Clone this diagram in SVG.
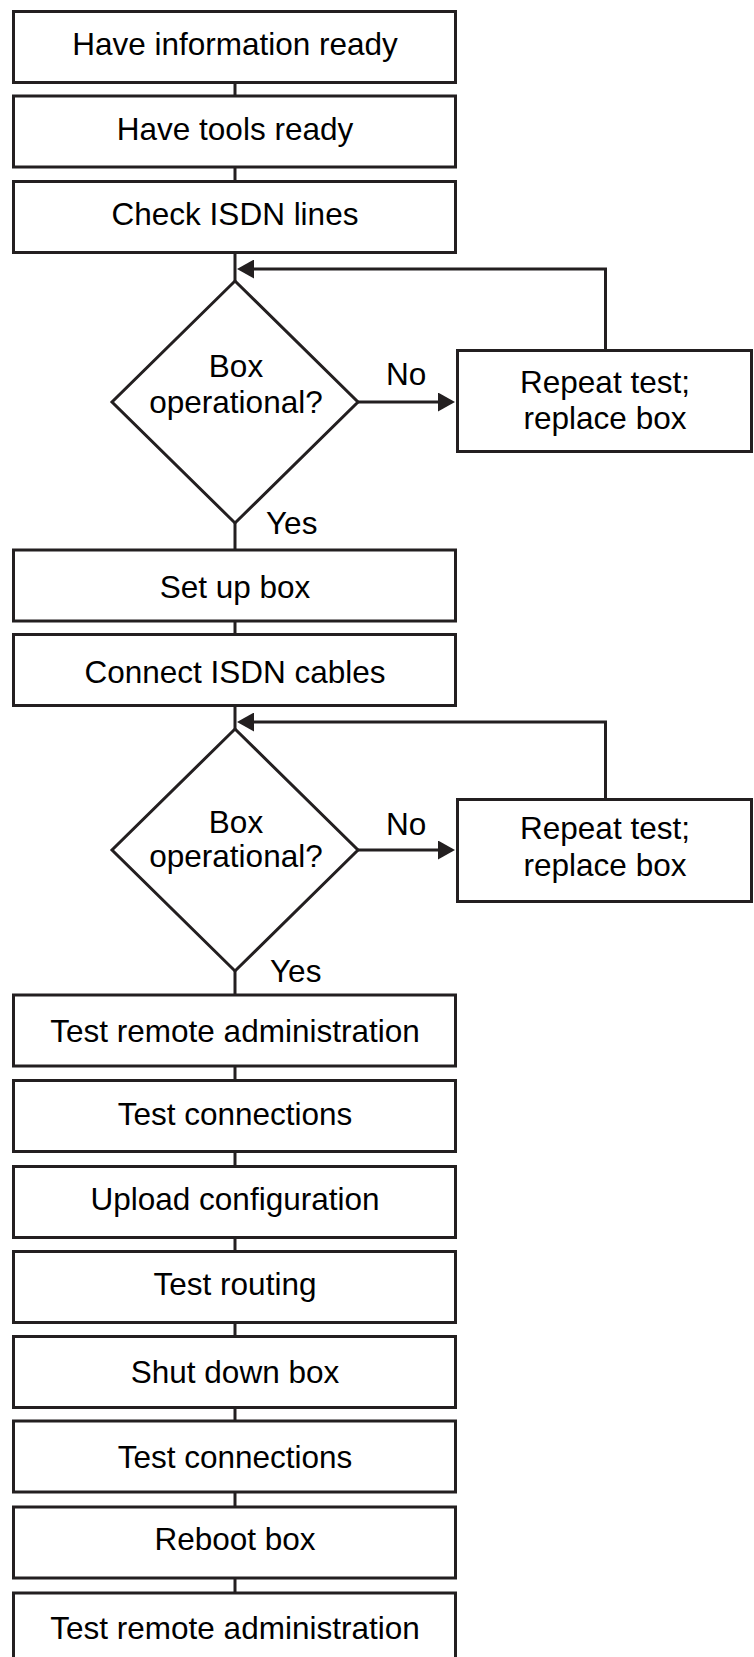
<svg xmlns="http://www.w3.org/2000/svg" width="754" height="1657" viewBox="0 0 754 1657">
  <style>
    .box { fill: #ffffff; stroke: #231f20; stroke-width: 3; }
    .dia { fill: #ffffff; stroke: #231f20; stroke-width: 3; stroke-linejoin: miter; }
    .ln { fill: none; stroke: #231f20; stroke-width: 3; }
    .t { font-family: "Liberation Sans", Arial, sans-serif; font-size: 31.5px; fill: #000000; text-anchor: middle; }
    .lbl { font-family: "Liberation Sans", Arial, sans-serif; font-size: 31.5px; fill: #000000; }
  </style>
  <defs>
    <marker id="arrow" viewBox="0 0 17 19" refX="9" refY="9.5" markerWidth="17" markerHeight="19" markerUnits="userSpaceOnUse" orient="auto">
      <path d="M0,0 L17,9.5 L0,19 Z" fill="#231f20"/>
    </marker>
  </defs>
  <rect width="754" height="1657" fill="#ffffff"/>

  <g id="connectors">
    <path class="ln" d="M235,82 V96"/>
    <path class="ln" d="M235,167 V181"/>
    <path class="ln" d="M235,253 V281"/>
    <path class="ln" d="M235,523 V550"/>
    <path class="ln" d="M235,621 V635"/>
    <path class="ln" d="M235,706 V729"/>
    <path class="ln" d="M235,971 V995"/>
    <path class="ln" d="M235,1066 V1081"/>
    <path class="ln" d="M235,1152 V1167"/>
    <path class="ln" d="M235,1238 V1252"/>
    <path class="ln" d="M235,1323 V1337"/>
    <path class="ln" d="M235,1408 V1421"/>
    <path class="ln" d="M235,1492 V1507"/>
    <path class="ln" d="M235,1578 V1593"/>
    <path class="ln" d="M358,402 H447" marker-end="url(#arrow)"/>
    <path class="ln" d="M605.5,350 V269 H245" marker-end="url(#arrow)"/>
    <path class="ln" d="M358,850 H447" marker-end="url(#arrow)"/>
    <path class="ln" d="M605.5,799 V722 H245" marker-end="url(#arrow)"/>
    <text class="lbl" x="386" y="385">No</text>
    <text class="lbl" x="266" y="534">Yes</text>
    <text class="lbl" x="386" y="835">No</text>
    <text class="lbl" x="270" y="982">Yes</text>
  </g>

  <g id="n1"><rect class="box" x="13.5" y="11.5" width="442" height="71"/><text class="t" x="235" y="55">Have information ready</text></g>
  <g id="n2"><rect class="box" x="13.5" y="96" width="442" height="71"/><text class="t" x="235" y="140">Have tools ready</text></g>
  <g id="n3"><rect class="box" x="13.5" y="181.5" width="442" height="71"/><text class="t" x="235" y="225">Check ISDN lines</text></g>
  <g id="d1"><polygon class="dia" points="235,281 358,402 235,523 112,402"/><text class="t" x="236" y="377">Box</text><text class="t" x="236" y="413">operational?</text></g>
  <g id="r1"><rect class="box" x="457.5" y="350.5" width="294" height="101"/><text class="t" x="605" y="393">Repeat test;</text><text class="t" x="605" y="429">replace box</text></g>
  <g id="n4"><rect class="box" x="13.5" y="550" width="442" height="71"/><text class="t" x="235" y="598">Set up box</text></g>
  <g id="n5"><rect class="box" x="13.5" y="634.5" width="442" height="71"/><text class="t" x="235" y="683">Connect ISDN cables</text></g>
  <g id="d2"><polygon class="dia" points="235,729 358,850 235,971 112,850"/><text class="t" x="236" y="833">Box</text><text class="t" x="236" y="867">operational?</text></g>
  <g id="r2"><rect class="box" x="457.5" y="799.5" width="294" height="102"/><text class="t" x="605" y="839">Repeat test;</text><text class="t" x="605" y="876">replace box</text></g>
  <g id="n6"><rect class="box" x="13.5" y="995" width="442" height="71"/><text class="t" x="235" y="1041.5">Test remote administration</text></g>
  <g id="n7"><rect class="box" x="13.5" y="1080.5" width="442" height="71"/><text class="t" x="235" y="1125">Test connections</text></g>
  <g id="n8"><rect class="box" x="13.5" y="1166.5" width="442" height="71"/><text class="t" x="235" y="1210">Upload configuration</text></g>
  <g id="n9"><rect class="box" x="13.5" y="1251.5" width="442" height="71"/><text class="t" x="235" y="1295">Test routing</text></g>
  <g id="n10"><rect class="box" x="13.5" y="1336.5" width="442" height="71"/><text class="t" x="235" y="1382.5">Shut down box</text></g>
  <g id="n11"><rect class="box" x="13.5" y="1421" width="442" height="71"/><text class="t" x="235" y="1468">Test connections</text></g>
  <g id="n12"><rect class="box" x="13.5" y="1507" width="442" height="71"/><text class="t" x="235" y="1550">Reboot box</text></g>
  <g id="n13"><rect class="box" x="13.5" y="1593" width="442" height="71"/><text class="t" x="235" y="1639">Test remote administration</text></g>
</svg>
